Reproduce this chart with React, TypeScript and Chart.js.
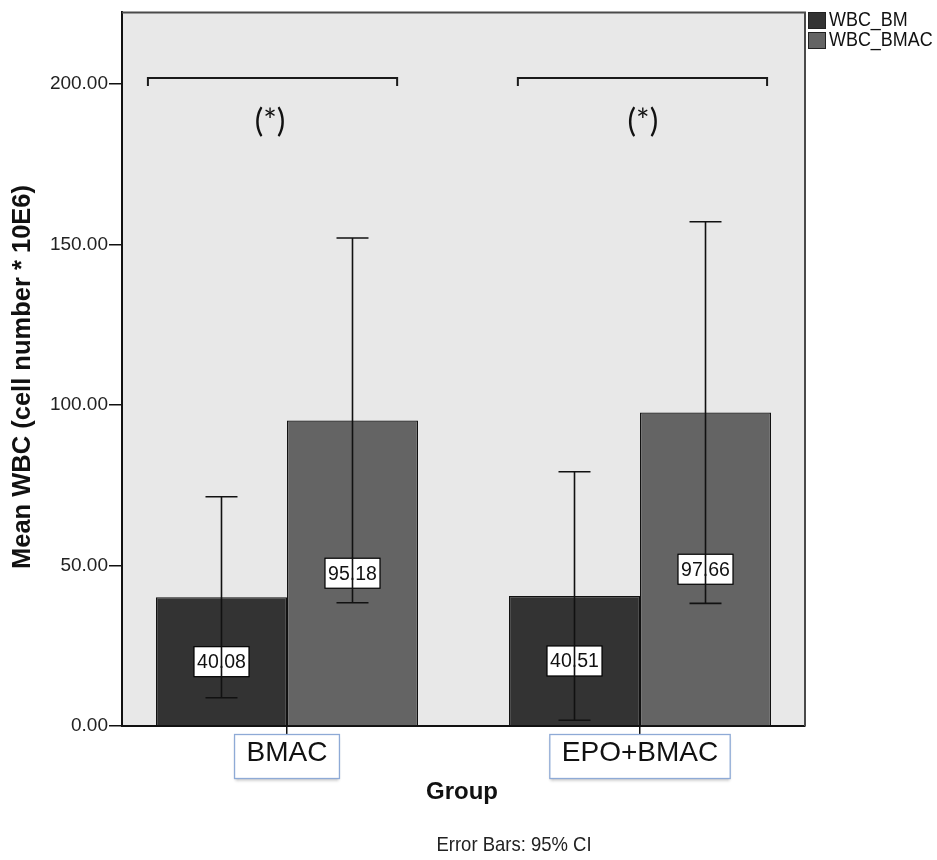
import React, { useEffect, useRef } from 'react';
import { Chart, registerables } from 'chart.js';

Chart.register(...registerables);

// ---- data ----
const GROUPS = ['BMAC', 'EPO+BMAC'];
const SERIES = ['WBC_BM', 'WBC_BMAC'];
const SERIES_COLORS = ['#333333', '#646464'];

const WBC_BM_MEAN = [40.08, 40.51];
const WBC_BM_LOW = [8.8, 1.8];
const WBC_BM_HIGH = [71.4, 79.2];

const WBC_BMAC_MEAN = [95.18, 97.66];
const WBC_BMAC_LOW = [38.4, 38.2];
const WBC_BMAC_HIGH = [152.0, 157.1];

const Y_TICKS = [0, 50, 100, 150, 200];
const Y_MAX = 222.3;

// significance brackets (x in group units, y in value units)
const BRACKET_FROM = [-0.394, 0.654];
const BRACKET_TO = [0.312, 1.36];
const BRACKET_Y = [201.9, 201.9];
const BRACKET_END = [199.4, 199.4];
const SIG_LABEL = ['(*)', '(*)'];
const SIG_LABEL_X = [-0.048, 1.008];
const SIG_LABEL_Y = [188.2, 188.2];

const Y_TITLE = 'Mean WBC (cell number * 10E6)';
const X_TITLE = 'Group';
const FOOTNOTE = 'Error Bars: 95% CI';

const MEANS = [WBC_BM_MEAN, WBC_BMAC_MEAN];
const LOWS = [WBC_BM_LOW, WBC_BMAC_LOW];
const HIGHS = [WBC_BM_HIGH, WBC_BMAC_HIGH];

const FONT = '"Liberation Sans", Arial, sans-serif';

type TxtOpts = {
  bold?: boolean;
  family?: string;
  align?: CanvasTextAlign;
  baseline?: CanvasTextBaseline;
  sx?: number;
  rot?: number;
  color?: string;
};

function txt(ctx: CanvasRenderingContext2D, s: string, x: number, y: number, size: number, o: TxtOpts = {}) {
  ctx.save();
  ctx.translate(x, y);
  if (o.rot) ctx.rotate(o.rot);
  ctx.scale(o.sx ?? 1, 1);
  ctx.font = `${o.bold ? 'bold ' : ''}${size}px ${o.family ?? FONT}`;
  ctx.textAlign = o.align ?? 'center';
  ctx.textBaseline = o.baseline ?? 'middle';
  ctx.fillStyle = o.color ?? '#111';
  ctx.fillText(s, 0, 0);
  ctx.restore();
}

const decorPlugin = {
  id: 'decor',
  beforeDraw(chart: any) {
    const { ctx, chartArea: a } = chart;
    ctx.save();
    ctx.fillStyle = '#ffffff';
    ctx.fillRect(0, 0, chart.width, chart.height);
    ctx.fillStyle = '#e8e8e8';
    ctx.fillRect(a.left, a.top, a.right - a.left, a.bottom - a.top);
    ctx.restore();
  },
  afterDatasetsDraw(chart: any) {
    const { ctx } = chart;
    const ys = chart.scales.y;
    // value labels
    MEANS.forEach((arr, d) => {
      const meta = chart.getDatasetMeta(d);
      arr.forEach((v, i) => {
        const bx = meta.data[i].x;
        const cy = ys.getPixelForValue(v / 2);
        ctx.save();
        ctx.fillStyle = '#ffffff';
        ctx.strokeStyle = '#000';
        ctx.lineWidth = 1.2;
        ctx.fillRect(bx - 27.5, cy - 15, 55, 30);
        ctx.strokeRect(bx - 27.5, cy - 15, 55, 30);
        ctx.restore();
        txt(ctx, v.toFixed(2), bx, cy + 1, 19.5, { color: '#111' });
      });
    });
    // error bars
    MEANS.forEach((arr, d) => {
      const meta = chart.getDatasetMeta(d);
      arr.forEach((_, i) => {
        const bx = meta.data[i].x;
        const yl = ys.getPixelForValue(LOWS[d][i]);
        const yh = ys.getPixelForValue(HIGHS[d][i]);
        ctx.save();
        ctx.strokeStyle = '#111';
        ctx.lineWidth = 1.6;
        ctx.beginPath();
        ctx.moveTo(bx, yl);
        ctx.lineTo(bx, yh);
        ctx.moveTo(bx - 16, yl);
        ctx.lineTo(bx + 16, yl);
        ctx.moveTo(bx - 16, yh);
        ctx.lineTo(bx + 16, yh);
        ctx.stroke();
        ctx.restore();
      });
    });
  },
  afterDraw(chart: any) {
    const { ctx, chartArea: a } = chart;
    const xs = chart.scales.x;
    const ys = chart.scales.y;
    // frame top/right
    ctx.save();
    ctx.strokeStyle = '#4a4a4a';
    ctx.lineWidth = 2;
    ctx.beginPath();
    ctx.moveTo(a.left, a.top);
    ctx.lineTo(a.right, a.top);
    ctx.lineTo(a.right, a.bottom);
    ctx.stroke();
    ctx.restore();

    // brackets
    BRACKET_FROM.forEach((f, k) => {
      const x1 = xs.getPixelForValue(f);
      const x2 = xs.getPixelForValue(BRACKET_TO[k]);
      const y = ys.getPixelForValue(BRACKET_Y[k]);
      const ye = ys.getPixelForValue(BRACKET_END[k]);
      ctx.save();
      ctx.strokeStyle = '#1a1a1a';
      ctx.lineWidth = 2;
      ctx.beginPath();
      ctx.moveTo(x1, ye);
      ctx.lineTo(x1, y);
      ctx.lineTo(x2, y);
      ctx.lineTo(x2, ye);
      ctx.stroke();
      ctx.restore();
      txt(ctx, SIG_LABEL[k], xs.getPixelForValue(SIG_LABEL_X[k]), ys.getPixelForValue(SIG_LABEL_Y[k]), 32, {
        family: 'Lato, "Open Sans", sans-serif',
        color: '#111',
      });
    });

    // legend
    SERIES.forEach((s, k) => {
      const top = 12 + k * 20;
      ctx.save();
      ctx.fillStyle = SERIES_COLORS[k];
      ctx.strokeStyle = '#222';
      ctx.lineWidth = 1;
      ctx.fillRect(808, top, 18, 17);
      ctx.strokeRect(808.5, top + 0.5, 17, 16);
      ctx.restore();
      txt(ctx, s, 829, top + 9, 19.5, { align: 'left', sx: 0.92, color: '#111' });
    });

    // category labels in boxes
    GROUPS.forEach((g, i) => {
      const cx = xs.getPixelForValue(i);
      ctx.save();
      ctx.font = `28px ${FONT}`;
      const w = ctx.measureText(g).width;
      ctx.restore();
      const bw = w + 24;
      const top = a.bottom + 8.5;
      const bh = 44;
      ctx.save();
      ctx.shadowColor = 'rgba(0,0,0,0.25)';
      ctx.shadowBlur = 3;
      ctx.shadowOffsetY = 2;
      ctx.fillStyle = '#ffffff';
      ctx.fillRect(cx - bw / 2, top, bw, bh);
      ctx.restore();
      ctx.save();
      ctx.strokeStyle = '#8eaad6';
      ctx.lineWidth = 1.3;
      ctx.strokeRect(cx - bw / 2, top, bw, bh);
      ctx.restore();
      txt(ctx, g, cx, top + 19, 28, { color: '#111' });
    });

    // axis titles and footnote
    txt(ctx, Y_TITLE, 23, 377, 25.5, { bold: true, rot: -Math.PI / 2, color: '#111' });
    txt(ctx, X_TITLE, 462, 792, 24, { bold: true, color: '#111' });
    txt(ctx, FOOTNOTE, 514, 845, 21, { sx: 0.88, color: '#222' });
  },
};

export default function App() {
  const ref = useRef<HTMLCanvasElement | null>(null);
  useEffect(() => {
    if (!ref.current) return;
    const datasets = SERIES.map((s, d) => ({
      label: s,
      data: MEANS[d].map((v, i) => ({ x: i, y: v })),
      backgroundColor: SERIES_COLORS[d],
      borderColor: '#111',
      borderWidth: 1.2,
      categoryPercentage: 262 / 353,
      barPercentage: 1,
    }));
    const chart = new Chart(ref.current, {
      type: 'bar',
      data: { datasets },
      options: {
        animation: false,
        responsive: false,
        devicePixelRatio: 1,
        layout: { padding: { top: 8, right: 132, bottom: 0, left: 0 } },
        plugins: { legend: { display: false }, tooltip: { enabled: false } },
        scales: {
          x: {
            type: 'linear',
            min: -0.4674,
            max: 1.4674,
            offset: false,
            afterBuildTicks: (s: any) => {
              s.ticks = GROUPS.map((_, i) => ({ value: i }));
            },
            afterFit: (s: any) => {
              s.height = 134;
            },
            ticks: { display: false },
            grid: {
              display: true,
              offset: false,
              drawOnChartArea: false,
              drawTicks: true,
              tickLength: 9,
              color: '#111',
              lineWidth: 1.5,
            },
            border: { display: true, color: '#111', width: 2 },
          },
          y: {
            type: 'linear',
            min: 0,
            max: Y_MAX,
            afterBuildTicks: (s: any) => {
              s.ticks = Y_TICKS.map((v) => ({ value: v }));
            },
            afterFit: (s: any) => {
              s.width = 122;
            },
            ticks: {
              callback: (v: any) => Number(v).toFixed(2),
              font: { family: FONT, size: 19 },
              color: '#222',
              padding: 1,
            },
            grid: { drawOnChartArea: false, drawTicks: true, tickLength: 13, color: '#111', lineWidth: 1.5 },
            border: { display: true, color: '#111', width: 2 },
          },
        },
      },
      plugins: [decorPlugin],
    } as any);
    return () => chart.destroy();
  }, []);
  return (
    <div style={{ position: 'absolute', left: 0, top: 0, width: 937, height: 860 }}>
      <canvas ref={ref} width={937} height={860} style={{ display: 'block', width: 937, height: 860 }} />
    </div>
  );
}
